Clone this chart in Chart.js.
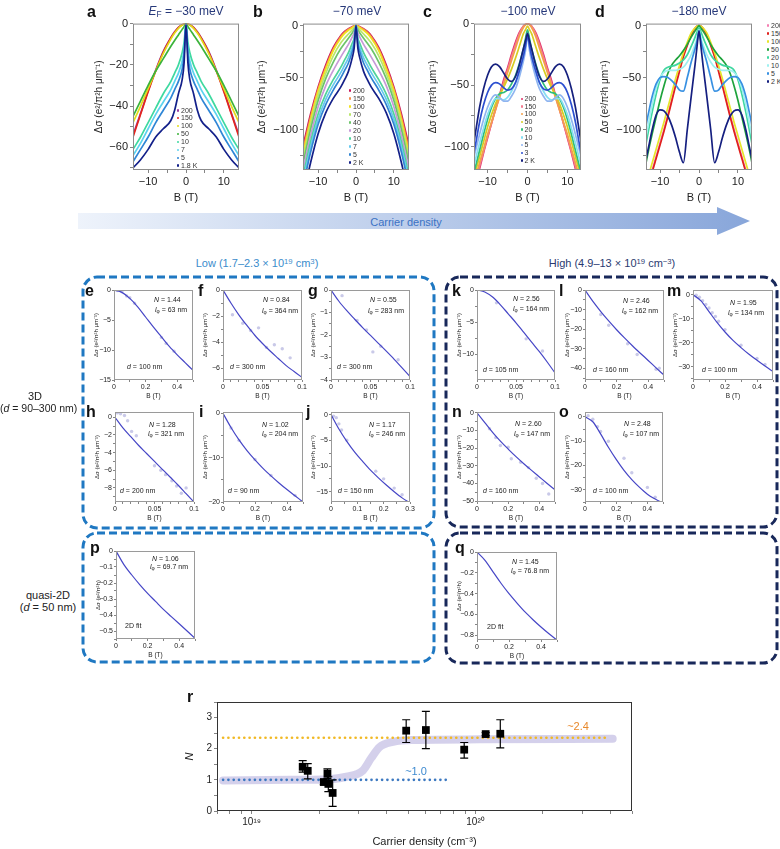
<!DOCTYPE html>
<html>
<head>
<meta charset="utf-8">
<title>Weak antilocalization vs carrier density</title>
<script src="https://cdn.jsdelivr.net/npm/chart.js@4.4.1/dist/chart.umd.min.js"></script>
<style>
  body { margin: 0; background: #fff; }
  #page { position: relative; width: 780px; height: 849px; overflow: hidden;
          font-family: "Liberation Sans", Arial, Helvetica, sans-serif; color: #222; }
  #page canvas, #page svg { position: absolute; left: 0; top: 0; }
  .t { position: absolute; white-space: nowrap; line-height: 1; }
  .let { font-weight: bold; font-size: 16px; color: #111; }
  .ttl { font-size: 12px; color: #27397a; transform: translateX(-50%); }
  .mid { transform: translateX(-50%); }
  .ann { font-size: 7px; color: #222; }
  .lab { font-size: 11px; }
  .lg { position: absolute; font-size: 7px; color: #333; line-height: 1; white-space: nowrap; }
  .lg span { display: inline-block; width: 2.4px; height: 2.4px; border-radius: 50%; margin-right: 1.6px; vertical-align: 1px; }
  sub { font-size: 70%; vertical-align: -0.25em; line-height: 0; }
  sup { font-size: 70%; vertical-align: 0.45em; line-height: 0; }
</style>
</head>
<body>
<div id="page">
  <svg width="780" height="849">
    <defs>
      <linearGradient id="arr" gradientUnits="userSpaceOnUse" x1="78" x2="750" y1="0" y2="0">
        <stop offset="0" stop-color="#eef3fb"/>
        <stop offset="1" stop-color="#88a6da"/>
      </linearGradient>
    </defs>
    <polygon points="78,213 717,213 717,207 750,221 717,235 717,229 78,229" fill="url(#arr)"/>
    <g fill="none" stroke-width="3" stroke-dasharray="8 4">
      <rect x="83" y="277" width="351" height="251" rx="14" stroke="#1f78c2"/>
      <rect x="446" y="277" width="331" height="250" rx="14" stroke="#18285a"/>
      <rect x="83" y="533" width="351" height="129" rx="14" stroke="#1f78c2"/>
      <rect x="446" y="533" width="331" height="130" rx="14" stroke="#18285a"/>
    </g>
  </svg>
</div>
<script>
// ---------- a: E_F = -30 meV ----------
const gridA = [-14,-12,-10,-8,-6,-4,-3,-2,-1,-0.5,0,0.5,1,2,3,4,6,8,10,12,14];
const tempA = ['200','150','100','50','10','7','5','1.8 K'];
const a200 = [-54,-43.5,-32.5,-22.5,-13.5,-6.8,-4,-1.8,-0.5,-0.2,0,-0.2,-0.5,-1.8,-4,-6.8,-13.5,-22.5,-32.5,-43.5,-54];
const a150 = [-55,-44,-33,-23,-14,-7,-4.2,-2,-0.6,-0.2,0,-0.2,-0.6,-2,-4.2,-7,-14,-23,-33,-44,-55];
const a100 = [-48,-40,-31.5,-23,-14.5,-7.5,-4.6,-2.3,-0.7,-0.2,0,-0.2,-0.7,-2.3,-4.6,-7.5,-14.5,-23,-31.5,-40,-48];
const a50  = [-45,-37.5,-30,-23,-17,-11,-8.2,-5.5,-2.8,-1.5,0,-1.5,-2.8,-5.5,-8.2,-11,-17,-23,-30,-37.5,-45];
const a10  = [-61,-55,-48,-41,-34,-28,-24,-20,-14,-9,0,-9,-14,-20,-24,-28,-34,-41,-48,-55,-61];
const a7   = [-64,-58,-51,-44,-38,-32,-28,-24,-18,-12,0,-12,-18,-24,-28,-32,-38,-44,-51,-58,-64];
const a5   = [-67,-61,-55,-48,-42,-36,-32,-28,-22,-15,0,-15,-22,-28,-32,-36,-42,-48,-55,-61,-67];
const a18  = [-70,-66,-61,-55,-51,-47,-42,-34,-27,-19,0,-19,-27,-34,-42,-47,-51,-55,-61,-66,-70];
const colA = ['#9b3fa0','#e3261e','#e2dc1c','#3bb33a','#3fd9a0','#5cd3ef','#2f86d6','#13208a'];

// ---------- b: -70 meV ----------
const gridB = [-14,-12,-10,-8,-6,-4,-3,-2,-1,-0.5,0,0.5,1,2,3,4,6,8,10,12,14];
const tempB = ['200','150','100','70','40','20','10','7','5','2 K'];
const b200 = [-116,-85,-59,-38,-21,-9.5,-5.5,-3,-1,-0.3,0,-0.3,-1,-3,-5.5,-9.5,-21,-38,-59,-85,-116];
const b150 = [-120,-88,-61,-40,-22.5,-10.5,-6.5,-3.5,-1.2,-0.4,0,-0.4,-1.2,-3.5,-6.5,-10.5,-22.5,-40,-61,-88,-120];
const b100 = [-124,-91,-63,-42,-24,-12,-7.5,-4.5,-2,-0.8,0,-0.8,-2,-4.5,-7.5,-12,-24,-42,-63,-91,-124];
const b70  = [-128,-95,-67,-46,-29,-16.5,-12,-8,-4,-2,0,-2,-4,-8,-12,-16.5,-29,-46,-67,-95,-128];
const b40  = [-133,-100,-72,-51,-35,-22,-17,-12,-7,-4,0,-4,-7,-12,-17,-22,-35,-51,-72,-100,-133];
const b20  = [-139,-106,-78,-58,-43,-30,-24,-18,-11,-7,0,-7,-11,-18,-24,-30,-43,-58,-78,-106,-139];
const b10  = [-145,-112,-85,-66,-52,-40,-33,-26,-17,-12,0,-12,-17,-26,-33,-40,-52,-66,-85,-112,-145];
const b7   = [-150,-117,-90,-71,-57,-45,-38,-31,-21,-15,0,-15,-21,-31,-38,-45,-57,-71,-90,-117,-150];
const b5   = [-155,-122,-95,-76,-62,-50,-43,-36,-25,-18,0,-18,-25,-36,-43,-50,-62,-76,-95,-122,-155];
const b2   = [-165,-132,-104,-84,-70,-59,-52,-44,-31,-22,0,-22,-31,-44,-52,-59,-70,-84,-104,-132,-165];
const colB = ['#c8155a','#f28b4a','#f2e21e','#b9e66a','#6cc46a','#c79ad8','#4fd39a','#66c9ee','#3184d2','#142088'];

// ---------- c: -100 meV ----------
const gridC = [-14,-13,-12,-11,-10,-9,-8,-7,-6,-5,-4,-3,-2,-1,-0.5,0,0.5,1,2,3,4,5,6,7,8,9,10,11,12,13,14];
const tempC = ['200','150','100','50','20','10','5','3','2 K'];
const c200 = [-142,-130,-118,-105,-93,-81,-69,-58,-46,-36,-25,-15,-7,-2,-0.5,0,-0.5,-2,-7,-15,-25,-36,-46,-58,-69,-81,-93,-105,-118,-130,-142];
const c150 = [-140,-128,-116,-104,-92,-81,-70,-59,-48,-38,-27,-17,-8,-2,-0.5,0,-0.5,-2,-8,-17,-27,-38,-48,-59,-70,-81,-92,-104,-116,-128,-140];
const c100 = [-137,-125,-113,-102,-90,-80,-70,-60,-50,-40,-30,-20,-10,-3,-1,0,-1,-3,-10,-20,-30,-40,-50,-60,-70,-80,-90,-102,-113,-125,-137];
const c50  = [-132,-120,-108,-96,-84,-74,-65,-58,-52,-45,-37,-28,-18,-8,-5,-2,-5,-8,-18,-28,-37,-45,-52,-58,-65,-74,-84,-96,-108,-120,-132];
const c20  = [-129,-116,-103,-90,-78,-68,-61,-57,-56,-54,-49,-42,-32,-20,-12,-5,-12,-20,-32,-42,-49,-54,-56,-57,-61,-68,-78,-90,-103,-116,-129];
const c10  = [-123,-110,-97,-85,-74,-66,-61,-61,-62,-60,-55,-48,-38,-26,-18,-8,-18,-26,-38,-48,-55,-60,-62,-61,-61,-66,-74,-85,-97,-110,-123];
const c5   = [-116,-103,-90,-78,-68,-61,-58,-60,-63,-63,-59,-53,-43,-30,-22,-10,-22,-30,-43,-53,-59,-63,-63,-60,-58,-61,-68,-78,-90,-103,-116];
const c3   = [-115,-98,-80,-66,-56,-50,-48,-49,-52,-54,-53,-48,-38,-26,-18,-10,-18,-26,-38,-48,-53,-54,-52,-49,-48,-50,-56,-66,-80,-98,-115];
const c2   = [-108,-88,-68,-53,-42,-35,-33,-35,-40,-45,-47,-43,-33,-20,-14,-8,-14,-20,-33,-43,-47,-45,-40,-35,-33,-35,-42,-53,-68,-88,-108];
const colC = ['#e0336a','#f37a8e','#f4a04a','#d6cd22','#2fbf7a','#86def2','#8fb5f0','#2c4fd0','#16207e'];

// ---------- d: -180 meV ----------
const gridD = [-14,-13,-12,-11,-10,-9,-8,-7,-6,-5,-4,-3,-2,-1,-0.5,0,0.5,1,2,3,4,5,6,7,8,9,10,11,12,13,14];
const tempD = ['200','150','100','50','20','10','5','2 K'];
const d200 = [-166,-152,-139,-126,-113,-100,-86,-71,-56,-42,-29,-18,-8.5,-2.3,-0.5,0,-0.5,-2.3,-8.5,-18,-29,-42,-56,-71,-86,-100,-113,-126,-139,-152,-166];
const d150 = [-170,-155,-141,-128,-115,-102,-88,-73,-58,-44,-30,-19,-9,-2.5,-0.5,0,-0.5,-2.5,-9,-19,-30,-44,-58,-73,-88,-102,-115,-128,-141,-155,-170];
const d100 = [-158,-145,-132,-119,-106,-93,-79,-65,-51,-38,-26,-16,-7,-2,-0.5,0,-0.5,-2,-7,-16,-26,-38,-51,-65,-79,-93,-106,-119,-132,-145,-158];
const d50  = [-140,-121,-104,-88,-72,-58,-46,-38,-33,-29,-24,-18,-11,-5,-2.5,0,-2.5,-5,-11,-18,-24,-29,-33,-38,-46,-58,-72,-88,-104,-121,-140];
const d20  = [-122,-102,-83,-66,-52,-43,-40,-39,-38,-36,-33,-28,-20,-11,-6,-2,-6,-11,-20,-28,-33,-36,-38,-39,-40,-43,-52,-66,-83,-102,-122];
const d10  = [-115,-95,-76,-60,-50,-45,-43,-43,-43,-42,-40,-35,-28,-18,-12,-4,-12,-18,-28,-35,-40,-42,-43,-43,-43,-45,-50,-60,-76,-95,-115];
const d5   = [-104,-85,-68,-56,-50,-49,-50,-53,-57,-62,-63,-50,-35,-22,-15,-5,-15,-22,-35,-50,-63,-62,-57,-53,-50,-49,-50,-56,-68,-85,-104];
const d2   = [-136,-118,-100,-86,-81,-82,-87,-96,-108,-122,-132,-100,-68,-37,-20,-5,-20,-37,-68,-100,-132,-122,-108,-96,-87,-82,-81,-86,-100,-118,-136];
const colD = ['#f47fb2','#e0201c','#e6e52a','#1fa33c','#3fd7a0','#9ff0f0','#3790e2','#151f80'];

// ---------- e-q: low-field fits ----------
const b05 = [0,0.05,0.1,0.15,0.2,0.25,0.3,0.35,0.4,0.45,0.5];
const b01 = [0,0.01,0.02,0.03,0.04,0.05,0.06,0.07,0.08,0.09,0.1];
const b03 = [0,0.03,0.06,0.09,0.12,0.15,0.18,0.21,0.24,0.27,0.3];
const eFit = [0,-0.4,-1.4,-2.8,-4.5,-6.2,-7.8,-9.4,-10.8,-12.1,-13.4];
const ePtB = [0.02,0.05,0.08,0.1,0.13,0.3,0.33,0.38];
const ePtS = [-0.1,-0.3,-1.0,-1.3,-2.2,-7.9,-8.9,-10.2];
const fFit = [0,-1.0,-1.9,-2.7,-3.45,-4.1,-4.7,-5.25,-5.8,-6.25,-6.7];
const fPtB = [0.012,0.025,0.035,0.045,0.055,0.065,0.075,0.085];
const fPtS = [-1.9,-2.55,-3.1,-2.9,-4.4,-4.2,-4.5,-5.2];
const gFit = [0,-0.5,-0.92,-1.3,-1.67,-2.02,-2.37,-2.72,-3.08,-3.46,-3.85];
const gPtB = [0.014,0.033,0.045,0.053,0.063,0.085];
const gPtS = [-0.25,-1.35,-1.78,-2.75,-2.5,-3.1];
const kFit = [0,-0.3,-1.1,-2.3,-3.7,-5.1,-6.6,-8.1,-9.6,-11.2,-12.9];
const kPtB = [0.025,0.063,0.084];
const kPtS = [-2.0,-7.6,-9.5];
const lFit = [0,-5.8,-11,-15.8,-20.3,-24.5,-28.5,-32.3,-36,-39.8,-43.5];
const lPtB = [0.1,0.15,0.27,0.33,0.45,0.47];
const lPtS = [-12.5,-18,-27.5,-33,-40.5,-40];
const mFit = [0,-2.5,-7,-11.5,-15.5,-19,-22,-24.8,-27.3,-29.7,-32];
const mPtB = [0.02,0.04,0.06,0.08,0.1,0.12,0.14,0.16,0.2,0.3,0.4,0.45];
const mPtS = [-0.2,-1,-2.5,-4,-5.5,-7.5,-9,-11,-14.5,-21,-26.5,-29];
const hFit = [0,-1.2,-2.2,-3.2,-4.1,-5.0,-5.9,-6.8,-7.7,-8.65,-9.6];
const hPtB = [0.003,0.007,0.012,0.016,0.021,0.027,0.05,0.058,0.064,0.072,0.078,0.084,0.09];
const hPtS = [0.5,0.4,0.2,-0.4,-1.6,-2.1,-5.5,-6.0,-6.5,-7.2,-7.8,-8.6,-8.0];
const iFit = [0,-3.2,-6,-8.4,-10.5,-12.4,-14.1,-15.7,-17.2,-18.6,-20];
const iPtB = [0.05,0.1,0.2,0.3,0.45];
const iPtS = [-3.3,-6.1,-10.4,-14.0,-18.5];
const jFit = [0,-2.8,-5.2,-7.3,-9.1,-10.8,-12.3,-13.7,-15,-16.2,-17.2];
const jPtB = [0.01,0.02,0.03,0.04,0.06,0.17,0.2,0.24,0.27];
const jPtS = [-0.3,-0.6,-1.8,-3.0,-5.0,-11,-12.5,-14.3,-15.6];
const nFit = [0,-5.5,-11,-16,-20.5,-24.8,-28.8,-32.6,-36.3,-40,-43.6];
const nPtB = [0.08,0.12,0.15,0.2,0.22,0.28,0.33,0.38,0.42,0.46];
const nPtS = [-9,-14,-18.5,-19.5,-26,-28,-31,-37,-40,-46];
const oFit = [0,-2,-7,-12.5,-17.5,-22,-25.8,-29,-31.8,-33.8,-35.5];
const oPtB = [0.02,0.05,0.08,0.1,0.15,0.25,0.3,0.4,0.45];
const oPtS = [0.5,-1,-4,-6,-10,-17,-23,-29,-33];
const pFit = [0,-0.085,-0.15,-0.21,-0.265,-0.315,-0.365,-0.41,-0.455,-0.5,-0.545];
const qFit = [0,-0.08,-0.19,-0.3,-0.4,-0.49,-0.575,-0.65,-0.72,-0.785,-0.845];

// ---------- r: N vs carrier density ----------
const rDens = [1.69e19,1.78e19,2.1e19,2.18e19,2.2e19,2.3e19,4.9e19,6.0e19,8.9e19,1.11e20,1.29e20];
const rN    = [1.42,1.29,0.93,1.2,0.87,0.58,2.58,2.6,1.97,2.47,2.48];
const rLo   = [1.25,1.03,0.85,1.05,0.62,0.15,2.2,2.0,1.7,2.42,2.03];
const rHi   = [1.62,1.52,1.0,1.35,1.1,1.0,2.93,3.2,2.2,2.52,2.93];
const guideX = [7.45e18,1.5e19,1.88e19,2.65e19,3.14e19,3.42e19,3.72e19,4.28e19,5.25e19,1.04e20,4.1e20];
const guideN = [0.98,1.0,1.0,1.1,1.3,1.7,2.05,2.22,2.28,2.3,2.32];
const highX = [7.45e18,3.97e20], highN = [2.35,2.35];
const lowX  = [7.45e18,7.6e19],  lowN  = [1.0,1.0];

const page = document.getElementById('page');
Chart.defaults.font.family = '"Liberation Sans", Arial, Helvetica, sans-serif';
Chart.defaults.color = '#222';
Chart.register({
  id: 'frame',
  afterDraw(ch, args, opts) {
    const a = ch.chartArea, c = ch.ctx;
    c.save();
    c.strokeStyle = opts.color || '#8a8a8a';
    c.lineWidth = 1;
    c.strokeRect(a.left + 0.5, a.top + 0.5, a.right - a.left - 1, a.bottom - a.top - 1);
    c.restore();
  }
});

const zip = (xs, ys) => xs.map((x, i) => ({ x, y: ys[i] }));
function ticksFor(min, max, step) {
  const out = [];
  for (let k = Math.ceil(min / step - 1e-9); k <= Math.floor(max / step + 1e-9); k++) out.push({ value: +(k * step).toFixed(6) });
  return out;
}
function fmt(major) {
  return v => {
    const q = v / major;
    if (Math.abs(q - Math.round(q)) > 1e-6) return '';
    return String(+v.toFixed(4)).replace('-', '\u2212');
  };
}
function axis(s, st, isX) {
  return {
    type: s.type || 'linear', min: s.min, max: s.max,
    afterBuildTicks: sc => { sc.ticks = s.ticks.map(t => ({ value: t.value })); },
    afterFit: sc => { if (isX) sc.height = s.size; else sc.width = s.size; },
    ticks: { autoSkip: false, maxRotation: 0, minRotation: 0, font: { size: st.fs }, color: '#222', padding: st.tp, callback: s.label },
    grid: { drawOnChartArea: false, tickLength: st.tl, color: '#666', lineWidth: 0.8 },
    border: { display: false },
    title: { display: true, text: s.title, color: '#222', padding: 0,
             font: { size: s.tfs || st.fs, style: s.ital ? 'italic' : 'normal' } }
  };
}
function makeChart(box, sx, sy, datasets, st, plugins) {
  const [l, t, r, b] = box;
  const W = r - l + sy.size + st.pr, H = b - t + st.pt + sx.size;
  const cv = document.createElement('canvas');
  cv.width = W; cv.height = H;
  cv.style.left = (l - sy.size) + 'px'; cv.style.top = (t - st.pt) + 'px';
  cv.style.width = W + 'px'; cv.style.height = H + 'px';
  page.appendChild(cv);
  return new Chart(cv, {
    type: 'line',
    data: { datasets },
    options: {
      responsive: false, animation: false, devicePixelRatio: 1, events: [],
      layout: { padding: { top: st.pt, right: st.pr, left: 0, bottom: 0 } },
      plugins: { legend: { display: false }, tooltip: { enabled: false }, frame: { color: st.frame } },
      scales: { x: axis(sx, st, true), y: axis(sy, st, false) }
    },
    plugins: plugins || []
  });
}
function curves(grid, series, cols) {
  return series.map((ys, i) => ({
    data: zip(grid, ys), borderColor: cols[i], borderWidth: 1.7, pointRadius: 0,
    cubicInterpolationMode: 'monotone', order: series.length - i
  }));
}

// top row
const topSt = { pt: 8, pr: 8, fs: 11, tp: 2, tl: 3, frame: '#8c8c8c' };
const dsLabel = 'Δσ (e²/π²h μm⁻¹)';
const topX = (lim) => ({ min: -lim, max: lim, size: 35, ticks: ticksFor(-lim, lim, 5), label: fmt(10), title: 'B (T)' });
makeChart([133, 23, 239, 170], topX(14),
  { min: -71, max: 0, size: 40, ticks: ticksFor(-71, 0, 10), label: fmt(20), title: dsLabel, tfs: 10 },
  curves(gridA, [a200, a150, a100, a50, a10, a7, a5, a18], colA), topSt);
makeChart([303, 23, 409, 170], topX(14),
  { min: -139, max: 2, size: 47, ticks: ticksFor(-139, 2, 25), label: fmt(50), title: dsLabel, tfs: 10 },
  curves(gridB, [b200, b150, b100, b70, b40, b20, b10, b7, b5, b2], colB), topSt);
makeChart([474, 23, 581, 170], topX(13.4),
  { min: -119, max: 0, size: 47, ticks: ticksFor(-119, 0, 25), label: fmt(50), title: dsLabel, tfs: 10 },
  curves(gridC, [c200, c150, c100, c50, c20, c10, c5, c3, c2], colC), topSt);
makeChart([646, 23, 752, 170], topX(13.6),
  { min: -139, max: 2, size: 47, ticks: ticksFor(-139, 2, 25), label: fmt(50), title: dsLabel, tfs: 10 },
  curves(gridD, [d200, d150, d100, d50, d20, d10, d5, d2], colD), topSt);

// small fit panels
const smSt = { pt: 6, pr: 8, fs: 7, tp: 1, tl: 2, frame: '#9a9a9a' };
function small(box, xr, yr, xs, fit, pb, ps, ylab) {
  const ds = [{ data: zip(xs, fit), borderColor: '#4646c6', borderWidth: 1.2, pointRadius: 0, cubicInterpolationMode: 'monotone', order: 0 }];
  if (pb) ds.push({ data: zip(pb, ps), showLine: false, pointRadius: 1.7, pointBackgroundColor: '#c9c9e8', pointBorderWidth: 0, order: 1 });
  makeChart(box,
    { min: xr[0], max: xr[1], size: 20, ticks: ticksFor(xr[0], xr[1], xr[3]), label: fmt(xr[2]), title: 'B (T)', tfs: 6.5 },
    { min: yr[0], max: yr[1], size: 21, ticks: ticksFor(yr[0], yr[1], yr[3]), label: fmt(yr[2]), title: ylab || dsLabel, tfs: 6 },
    ds, smSt);
}
small([114, 290, 193, 380], [0, 0.5, 0.2, 0.1], [-15, 0, 5, 5], b05, eFit, ePtB, ePtS);
small([223, 290, 302, 380], [0, 0.1, 0.05, 0.01], [-6.9, 0, 2, 1], b01, fFit, fPtB, fPtS);
small([331, 290, 410, 380], [0, 0.1, 0.05, 0.01], [-4, 0, 1, 0.5], b01, gFit, gPtB, gPtS);
small([477, 290, 555, 380], [0, 0.1, 0.05, 0.01], [-14, 0, 5, 2.5], b01, kFit, kPtB, kPtS);
small([585, 290, 664, 380], [0, 0.5, 0.2, 0.1], [-46, 0, 10, 5], b05, lFit, lPtB, lPtS);
small([693, 290, 773, 380], [0, 0.5, 0.2, 0.1], [-35.5, 2, 10, 5], b05, mFit, mPtB, mPtS);
small([115, 412, 194, 502], [0, 0.1, 0.05, 0.01], [-9.6, 0.6, 2, 1], b01, hFit, hPtB, hPtS);
small([223, 412, 303, 502], [0, 0.5, 0.2, 0.1], [-20, 0.3, 10, 5], b05, iFit, iPtB, iPtS);
small([331, 412, 410, 502], [0, 0.3, 0.1, 0.05], [-17, 0.5, 5, 2.5], b03, jFit, jPtB, jPtS);
small([477, 412, 555, 502], [0, 0.5, 0.2, 0.1], [-50.5, 0.5, 10, 5], b05, nFit, nPtB, nPtS);
small([585, 412, 663, 502], [0, 0.5, 0.2, 0.1], [-35, 2, 10, 5], b05, oFit, oPtB, oPtS);
small([116, 551, 195, 639], [0, 0.5, 0.2, 0.1], [-0.55, 0, 0.1, 0.05], b05, pFit, null, null, 'Δσ (e²/π²h)');
small([477, 552, 557, 640], [0, 0.5, 0.2, 0.1], [-0.845, 0, 0.2, 0.1], b05, qFit, null, null, 'Δσ (e²/π²h)');

// r panel
const supD = { '0': '⁰', '1': '¹', '2': '²', '9': '⁹' };
const logTicks = [];
[18, 19, 20].forEach(e => { for (let m = 1; m <= 9; m++) { const v = m * Math.pow(10, e); if (v >= 7e18 && v <= 5e20) logTicks.push({ value: v }); } });
const errBars = {
  id: 'errBars',
  afterDatasetsDraw(ch) {
    const { ctx, scales: { x, y } } = ch;
    ctx.save(); ctx.strokeStyle = '#000'; ctx.lineWidth = 1.2;
    rDens.forEach((d, i) => {
      const px = x.getPixelForValue(d), y1 = y.getPixelForValue(rLo[i]), y2 = y.getPixelForValue(rHi[i]);
      ctx.beginPath();
      ctx.moveTo(px, y1); ctx.lineTo(px, y2);
      ctx.moveTo(px - 4, y1); ctx.lineTo(px + 4, y1);
      ctx.moveTo(px - 4, y2); ctx.lineTo(px + 4, y2);
      ctx.stroke();
    });
    ctx.restore();
  }
};
makeChart([217, 700, 632, 811],
  { type: 'logarithmic', min: 7e18, max: 5e20, size: 38, ticks: logTicks, title: 'Carrier density (cm⁻³)', tfs: 11,
    label: v => { const e = Math.log10(v); return Math.abs(e - Math.round(e)) < 1e-9 ? '10' + String(Math.round(e)).split('').map(c => supD[c]).join('') : ''; } },
  { min: 0, max: 3.5, size: 34, ticks: ticksFor(0, 3.5, 0.5), label: fmt(1), title: 'N', ital: true, tfs: 11 },
  [
    { data: zip(rDens, rN), showLine: false, pointStyle: 'rect', pointRadius: 5.5, pointBackgroundColor: '#000', pointBorderWidth: 0, order: 0 },
    { data: zip(lowX, lowN), borderColor: '#3d79c1', borderWidth: 2.6, borderDash: [0.1, 5.2], borderCapStyle: 'round', pointRadius: 0, order: 2 },
    { data: zip(highX, highN), borderColor: '#f1b925', borderWidth: 2.6, borderDash: [0.1, 5.2], borderCapStyle: 'round', pointRadius: 0, order: 3 },
    { data: zip(guideX, guideN), borderColor: 'rgba(204,200,232,0.85)', borderWidth: 8, borderCapStyle: 'round', pointRadius: 0, cubicInterpolationMode: 'monotone', order: 4 }
  ],
  { pt: 6, pr: 8, fs: 10, tp: 2, tl: 3, frame: '#333' }, [errBars]);

// ---------- text ----------
function txt(cls, x, y, html) {
  const d = document.createElement('div');
  d.className = 't ' + cls; d.style.left = x + 'px'; d.style.top = y + 'px'; d.innerHTML = html;
  page.appendChild(d);
}
[['a',87,3.5],['b',253,3.5],['c',423,3.5],['d',595,3.5],
 ['e',85,282.5],['f',198,282.5],['g',308,282.5],['k',452,282.5],['l',559,282.5],['m',667,282.5],
 ['h',86,403.5],['i',199,403.5],['j',306,403.5],['n',452,403.5],['o',559,403.5],
 ['p',90,539.5],['q',455,539.5],['r',187,688.5]].forEach(([s, x, y]) => txt('let', x, y, s));
txt('ttl', 186, 5, '<i>E</i><sub>F</sub> = \u221230 meV');
txt('ttl', 357, 5, '\u221270 meV');
txt('ttl', 528, 5, '\u2212100 meV');
txt('ttl', 699, 5, '\u2212180 meV');
txt('lab mid', 406, 216.5, '<span style="color:#3b72c4">Carrier density</span>');
txt('lab mid', 257, 257.7, '<span style="color:#3a8ccc">Low (1.7\u20132.3 \u00d7 10<sup>19</sup> cm<sup>3</sup>)</span>');
txt('lab mid', 612, 257.7, '<span style="color:#2a3a70">High (4.9\u201313 \u00d7 10<sup>19</sup> cm<sup>\u22123</sup>)</span>');
txt('lab mid', 35, 390.7, '3D');
txt('lab', 0, 402.7, '<span style="font-size:10.5px">(<i>d</i> = 90\u2013300 nm)</span>');
txt('lab mid', 48, 589.7, 'quasi-2D');
txt('lab mid', 48, 601.7, '(<i>d</i> = 50 nm)');
txt('lab mid', 578, 721, '<span style="color:#e8892c">~2.4</span>');
txt('lab mid', 416, 766, '<span style="color:#3e8ad0">~1.0</span>');

const L = v => '<i>l</i><sub>\u03c6</sub> = ' + v + ' nm';
[[154,302,'<i>N</i> = 1.44'],[155,312,L('63')],[127,369,'<i>d</i> = 100 nm'],
 [263,302,'<i>N</i> = 0.84'],[262,313,L('364')],[230,369,'<i>d</i> = 300 nm'],
 [370,302,'<i>N</i> = 0.55'],[368,313,L('283')],[337,369,'<i>d</i> = 300 nm'],
 [513,301,'<i>N</i> = 2.56'],[513,311,L('164')],[483,372,'<i>d</i> = 105 nm'],
 [623,303,'<i>N</i> = 2.46'],[622,313,L('162')],[593,372,'<i>d</i> = 160 nm'],
 [730,305,'<i>N</i> = 1.95'],[728,315,L('134')],[702,372,'<i>d</i> = 100 nm'],
 [149,427,'<i>N</i> = 1.28'],[148,436,L('321')],[120,493,'<i>d</i> = 200 nm'],
 [262,427,'<i>N</i> = 1.02'],[262,436,L('204')],[228,493,'<i>d</i> = 90 nm'],
 [369,427,'<i>N</i> = 1.17'],[369,436,L('246')],[338,493,'<i>d</i> = 150 nm'],
 [515,426,'<i>N</i> = 2.60'],[514,436,L('147')],[483,493,'<i>d</i> = 160 nm'],
 [624,426,'<i>N</i> = 2.48'],[623,436,L('107')],[593,493,'<i>d</i> = 100 nm'],
 [152,561,'<i>N</i> = 1.06'],[150,569,L('69.7')],[125,628,'2D fit'],
 [512,564,'<i>N</i> = 1.45'],[511,573,L('76.8')],[487,629,'2D fit']
].forEach(([x, y, h]) => txt('ann', x, y - 6, h));

function legend(x, y, gap, temps, cols) {
  temps.forEach((tp, i) => {
    const d = document.createElement('div');
    d.className = 'lg'; d.style.left = x + 'px'; d.style.top = (y + i * gap) + 'px';
    d.innerHTML = '<span style="background:' + cols[i] + '"></span>' + tp;
    page.appendChild(d);
  });
}
legend(177, 106.5, 7.9, tempA, colA);
legend(349, 86.5, 8.0, tempB, colB);
legend(520.5, 95, 7.7, tempC, colC);
legend(767, 21.5, 8.0, tempD, colD);
</script>
</body>
</html>
